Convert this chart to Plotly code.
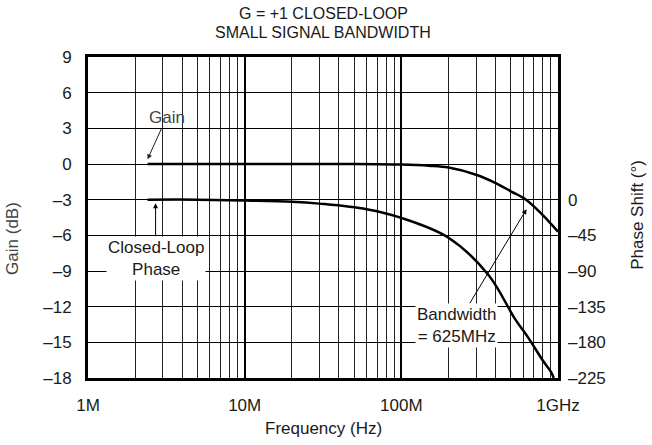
import numpy as np
import plotly.graph_objects as go

# gain curve (Hz, dB)
gain_freq = [2.4e6, 5e6, 1e7, 2e7, 5e7, 1e8, 1.5e8, 2e8, 3e8, 4e8, 5e8, 6.25e8, 8e8, 1e9]
gain_db = [0, 0, 0, 0, 0, -0.05, -0.15, -0.3, -0.9, -1.6, -2.3, -3.0, -4.3, -5.7]

# closed-loop phase (Hz, degrees)
phase_freq = [2.4e6, 5e6, 1e7, 2e7, 3e7, 6e7, 1e8, 2e8, 3.6e8, 5.3e8, 6.5e8, 8e8, 9e8, 9.4e8]
phase_deg = [0, 0, -1, -2.5, -5, -12, -23, -48, -95, -150, -175, -203, -217, -225]

x_ticks = [1e6, 1e7, 1e8, 1e9]
x_labels = ["1M", "10M", "100M", "1GHz"]
gain_ticks = [9, 6, 3, 0, -3, -6, -9, -12, -15, -18]
phase_ticks = [0, -45, -90, -135, -180, -225]

FONT = "Liberation Sans, Arial, Helvetica, sans-serif"
TXT = "#1a1a1a"


def dash(v):
    return str(v).replace("-", "\u2013")


fig = go.Figure()
fig.add_trace(go.Scatter(x=gain_freq, y=gain_db, mode="lines",
                         line=dict(color="black", width=2.5, shape="spline"),
                         showlegend=False))
fig.add_trace(go.Scatter(x=phase_freq, y=phase_deg, mode="lines", yaxis="y2",
                         line=dict(color="black", width=2.5, shape="spline"),
                         showlegend=False))

fig.update_layout(
    width=652, height=445,
    margin=dict(l=88, r=94, t=57, b=67),
    paper_bgcolor="white", plot_bgcolor="white",
    font=dict(family=FONT, size=17, color=TXT),
    xaxis=dict(type="log", range=[6, 9], tickvals=x_ticks, ticktext=x_labels,
               showgrid=True, gridcolor="black", gridwidth=2,
               minor=dict(dtick="D1", showgrid=True, gridcolor="#222", gridwidth=1, ticks=""),
               showline=True, linecolor="black", linewidth=3, mirror=True,
               ticks="", ticklabelstandoff=10, tickfont=dict(size=17),
               zeroline=False, automargin=False),
    yaxis=dict(range=[-18, 9], tickvals=gain_ticks, ticktext=[dash(v) for v in gain_ticks],
               showgrid=True, gridcolor="black", gridwidth=1,
               showline=True, linecolor="black", linewidth=3, mirror=True,
               ticks="", ticklabelstandoff=10, tickfont=dict(size=17),
               zeroline=False, automargin=False),
    yaxis2=dict(overlaying="y", side="right", range=[-225, 180],
                tickvals=phase_ticks, ticktext=[dash(v) for v in phase_ticks],
                showgrid=False, zeroline=False, ticks="", ticklabelstandoff=9,
                tickfont=dict(size=17), automargin=False),
)

# titles as paper annotations
fig.add_annotation(x=0.5, y=1.137, xref="paper", yref="paper", showarrow=False,
                   text="G = +1 CLOSED-LOOP", font=dict(size=16),
                   xanchor="center", yanchor="middle")
fig.add_annotation(x=0.5, y=1.075, xref="paper", yref="paper", showarrow=False,
                   text="SMALL SIGNAL BANDWIDTH", font=dict(size=16),
                   xanchor="center", yanchor="middle")
fig.add_annotation(x=0.5, y=-0.156, xref="paper", yref="paper", showarrow=False,
                   text="Frequency (Hz)", font=dict(size=17),
                   xanchor="center", yanchor="middle")
fig.add_annotation(x=-0.162, y=0.436, xref="paper", yref="paper", showarrow=False,
                   text="Gain (dB)", textangle=-90, font=dict(size=17, color="#444"),
                   xanchor="center", yanchor="middle")
fig.add_annotation(x=1.170, y=0.508, xref="paper", yref="paper", showarrow=False,
                   text="Phase Shift (°)", textangle=-90, font=dict(size=17),
                   xanchor="center", yanchor="middle")

# curve callouts
fig.add_annotation(x=np.log10(2.4e6), y=0.4, text="Gain", showarrow=True,
                   ax=19, ay=-42, arrowhead=2, arrowsize=1, arrowwidth=1,
                   arrowcolor="#222", font=dict(size=17, color="#444"))
fig.add_annotation(x=np.log10(2.7e6), y=-3.3, text="Closed-Loop<br>Phase", showarrow=True,
                   ax=0, ay=55, arrowhead=2, arrowsize=1, arrowwidth=1,
                   arrowcolor="black", bgcolor="white", font=dict(size=17))
fig.add_annotation(x=np.log10(6.3e8), y=-3.8, text="Bandwidth<br>= 625MHz", showarrow=True,
                   ax=-70, ay=116, arrowhead=2, arrowsize=1, arrowwidth=1,
                   arrowcolor="black", bgcolor="white", font=dict(size=17))

# drop the default 8px body margin so the figure fills the window
fig.write_html("out.html", config={"displayModeBar": False},
               post_script="document.body.style.margin='0';")
